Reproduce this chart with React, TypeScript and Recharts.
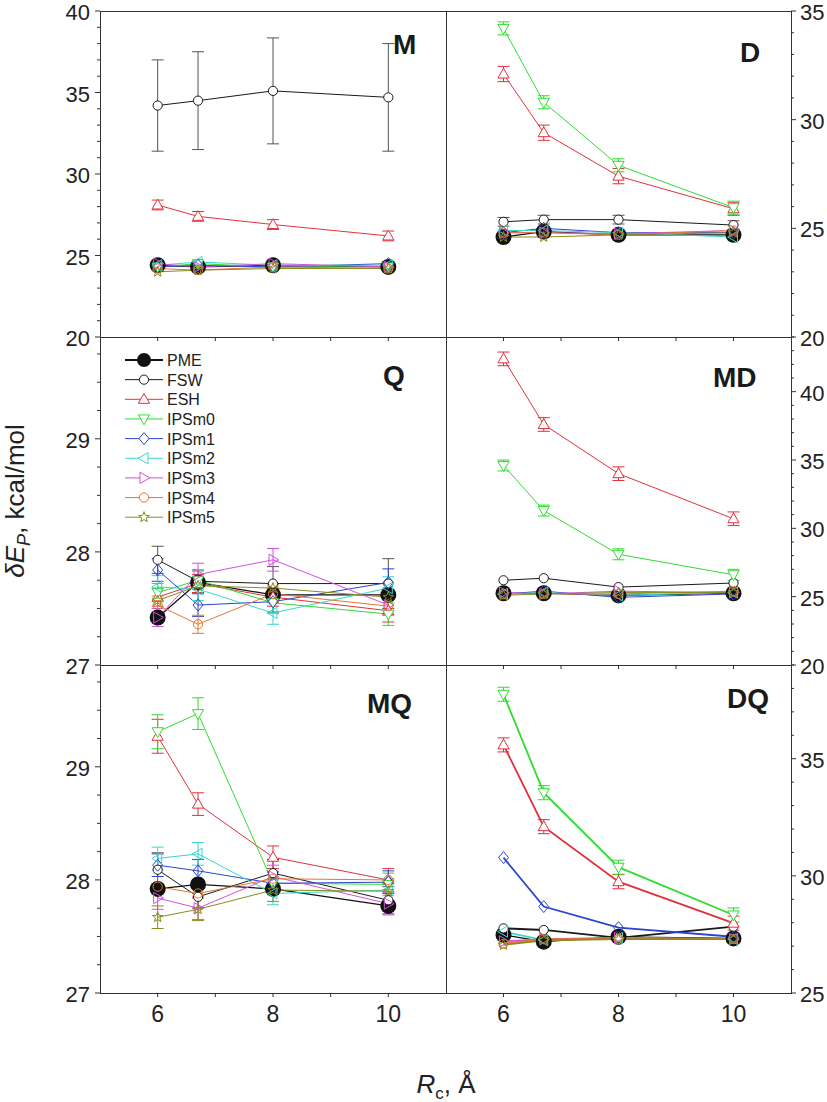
import React from "react";
import { LineChart, Line, XAxis, YAxis, ErrorBar } from "recharts";

const FONT = '"Liberation Sans", Arial, Helvetica, sans-serif';

// cutoff radius values (x)
const rc = [6, 6.7, 8, 10];
const xTicks = [6, 7, 8, 9, 10];
const xLabels = [6, 8, 10];

const seriesNames = ["PME", "FSW", "ESH", "IPSm0", "IPSm1", "IPSm2", "IPSm3", "IPSm4", "IPSm5"];

// ---- M ----
const mPME = [24.4, 24.3, 24.4, 24.3];
const mFSW = [34.2, 34.5, 35.1, 34.7];
const mESH = [28.1, 27.4, 26.9, 26.2];
const mIPSm0 = [24.3, 24.5, 24.3, 24.3];
const mIPSm1 = [24.3, 24.4, 24.3, 24.5];
const mIPSm2 = [24.4, 24.6, 24.4, 24.4];
const mIPSm3 = [24.5, 24.3, 24.5, 24.3];
const mIPSm4 = [24.2, 24.1, 24.3, 24.2];
const mIPSm5 = [24.0, 24.1, 24.2, 24.2];
const mFSWErr = [2.8, 3.0, 3.25, 3.3];
const mESHErr = [0.3, 0.3, 0.3, 0.3];

// ---- D ----
const dPME = [24.6, 24.85, 24.7, 24.7];
const dFSW = [25.3, 25.4, 25.4, 25.15];
const dESH = [32.1, 29.4, 27.4, 25.9];
const dIPSm0 = [34.2, 30.8, 27.9, 25.95];
const dIPSm1 = [24.8, 25.0, 24.8, 24.8];
const dIPSm2 = [24.9, 24.9, 24.8, 24.6];
const dIPSm3 = [24.8, 24.8, 24.75, 24.9];
const dIPSm4 = [24.8, 24.8, 24.7, 24.9];
const dIPSm5 = [24.6, 24.6, 24.7, 24.8];
const dESHErr = [0.35, 0.35, 0.35, 0.3];
const dIPSm0Err = [0.3, 0.3, 0.3, 0.3];
const dFSWErr = [0.2, 0.2, 0.2, 0.2];

// ---- Q ----
const qPME = [27.42, 27.73, 27.62, 27.62];
const qFSW = [27.93, 27.74, 27.72, 27.72];
const qESH = [27.6, 27.72, 27.6, 27.48];
const qIPSm0 = [27.64, 27.75, 27.55, 27.45];
const qIPSm1 = [27.84, 27.53, 27.56, 27.73];
const qIPSm2 = [27.69, 27.67, 27.46, 27.68];
const qIPSm3 = [27.42, 27.8, 27.93, 27.53];
const qIPSm4 = [27.53, 27.36, 27.63, 27.52];
const qIPSm5 = [27.57, 27.7, 27.68, 27.6];
const qFSWErr = [0.12, 0.1, 0.15, 0.22];
const qESHErr = [0.08, 0.08, 0.08, 0.1];
const qIPSm0Err = [0.08, 0.08, 0.08, 0.1];
const qIPSm1Err = [0.1, 0.1, 0.1, 0.12];
const qIPSm2Err = [0.1, 0.1, 0.1, 0.1];
const qIPSm3Err = [0.08, 0.1, 0.1, 0.05];
const qIPSm4Err = [0.08, 0.08, 0.08, 0.08];

// ---- MD ----
const mdPME = [25.25, 25.25, 25.1, 25.25];
const mdFSW = [26.2, 26.35, 25.7, 26.0];
const mdESH = [42.4, 37.6, 34.0, 30.7];
const mdIPSm0 = [34.6, 31.3, 28.1, 26.6];
const mdIPSm1 = [25.2, 25.4, 24.95, 25.2];
const mdIPSm2 = [25.2, 25.3, 25.1, 25.3];
const mdIPSm3 = [25.3, 25.2, 25.4, 25.3];
const mdIPSm4 = [25.2, 25.2, 25.2, 25.4];
const mdIPSm5 = [25.1, 25.2, 25.3, 25.3];
const mdESHErr = [0.5, 0.5, 0.5, 0.5];
const mdIPSm0Err = [0.4, 0.4, 0.4, 0.4];

// ---- MQ ----
const mqPME = [27.92, 27.96, 27.92, 27.77];
const mqFSW = [28.09, 27.85, 28.06, 27.82];
const mqESH = [29.27, 28.67, 28.2, 28.0];
const mqIPSm0 = [29.31, 29.47, 27.97, 27.96];
const mqIPSm1 = [28.13, 28.08, 27.97, 27.98];
const mqIPSm2 = [28.19, 28.23, 27.88, 27.91];
const mqIPSm3 = [27.84, 27.75, 28.03, 27.79];
const mqIPSm4 = [27.94, 27.88, 28.01, 28.0];
const mqIPSm5 = [27.67, 27.74, 27.91, 27.9];
const mqFSWErr = [0.15, 0.1, 0.12, 0.12];
const mqESHErr = [0.15, 0.1, 0.1, 0.1];
const mqIPSm0Err = [0.15, 0.14, 0.1, 0.1];
const mqIPSm1Err = [0.1, 0.1, 0.1, 0.1];
const mqIPSm2Err = [0.1, 0.1, 0.1, 0.1];
const mqIPSm3Err = [0.1, 0.1, 0.1, 0.1];
const mqIPSm5Err = [0.1, 0.1, 0.1, 0.1];

// ---- DQ ----
const dqPME = [27.48, 27.19, 27.4, 27.33];
const dqFSW = [27.76, 27.69, 27.35, 27.83];
const dqESH = [35.59, 32.1, 29.75, 27.98];
const dqIPSm0 = [37.75, 33.55, 30.37, 28.33];
const dqIPSm1 = [30.78, 28.69, 27.79, 27.4];
const dqIPSm2 = [27.62, 27.26, 27.35, 27.3];
const dqIPSm3 = [27.2, 27.3, 27.35, 27.3];
const dqIPSm4 = [27.1, 27.3, 27.3, 27.3];
const dqIPSm5 = [27.05, 27.25, 27.3, 27.3];
const dqESHErr = [0.3, 0.3, 0.3, 0.3];
const dqIPSm0Err = [0.3, 0.3, 0.3, 0.3];

const SERIES = [
  { name: "PME", color: "#111111", kind: "pme", fill: "#111111", w: 1.2 },
  { name: "FSW", color: "#1a1a1a", kind: "circle", fill: "#ffffff", w: 1 },
  { name: "ESH", color: "#e2303c", kind: "up", fill: "#ffffff", w: 1 },
  { name: "IPSm0", color: "#2fdc2f", kind: "down", fill: "#ffffff", w: 1 },
  { name: "IPSm1", color: "#2b44d2", kind: "diamond", fill: "none", w: 1 },
  { name: "IPSm2", color: "#36d8cc", kind: "left", fill: "none", w: 1 },
  { name: "IPSm3", color: "#d84ee0", kind: "right", fill: "none", w: 1 },
  { name: "IPSm4", color: "#e8772e", kind: "circle", fill: "none", w: 1 },
  { name: "IPSm5", color: "#8a8c1c", kind: "star", fill: "none", w: 1 },
];

const ROW_TOP = [11, 337, 665];
const ROW_BOTTOM = [337, 665, 993];
const TICK_FONT = 22;

const PANELS = [
  {
    label: "M", col: 0, row: 0, domain: [20, 40], majors: [20, 25, 30, 35, 40], step: 1, lw: 1, lx: 393, ly: 54,
    values: [mPME, mFSW, mESH, mIPSm0, mIPSm1, mIPSm2, mIPSm3, mIPSm4, mIPSm5],
    errors: { FSW: mFSWErr, ESH: mESHErr } as Record<string, number[]>,
  },
  {
    label: "D", col: 1, row: 0, domain: [20, 35], majors: [20, 25, 30, 35], step: 1, lw: 1, lx: 740, ly: 62,
    values: [dPME, dFSW, dESH, dIPSm0, dIPSm1, dIPSm2, dIPSm3, dIPSm4, dIPSm5],
    errors: { FSW: dFSWErr, ESH: dESHErr, IPSm0: dIPSm0Err } as Record<string, number[]>,
  },
  {
    label: "Q", col: 0, row: 1, domain: [27, 29.9], majors: [27, 28, 29], step: 0.25, lw: 1, lx: 383, ly: 385,
    values: [qPME, qFSW, qESH, qIPSm0, qIPSm1, qIPSm2, qIPSm3, qIPSm4, qIPSm5],
    errors: { FSW: qFSWErr, ESH: qESHErr, IPSm0: qIPSm0Err, IPSm1: qIPSm1Err, IPSm2: qIPSm2Err, IPSm3: qIPSm3Err, IPSm4: qIPSm4Err } as Record<string, number[]>,
  },
  {
    label: "MD", col: 1, row: 1, domain: [20, 44], majors: [20, 25, 30, 35, 40], step: 1, lw: 1, lx: 713, ly: 387,
    values: [mdPME, mdFSW, mdESH, mdIPSm0, mdIPSm1, mdIPSm2, mdIPSm3, mdIPSm4, mdIPSm5],
    errors: { ESH: mdESHErr, IPSm0: mdIPSm0Err } as Record<string, number[]>,
  },
  {
    label: "MQ", col: 0, row: 2, domain: [27, 29.9], majors: [27, 28, 29], step: 0.25, lw: 1, lx: 367, ly: 713,
    values: [mqPME, mqFSW, mqESH, mqIPSm0, mqIPSm1, mqIPSm2, mqIPSm3, mqIPSm4, mqIPSm5],
    errors: { FSW: mqFSWErr, ESH: mqESHErr, IPSm0: mqIPSm0Err, IPSm1: mqIPSm1Err, IPSm2: mqIPSm2Err, IPSm3: mqIPSm3Err, IPSm5: mqIPSm5Err } as Record<string, number[]>,
  },
  {
    label: "DQ", col: 1, row: 2, domain: [25, 39], majors: [25, 30, 35], step: 1, lw: 1.8, lx: 727, ly: 708,
    values: [dqPME, dqFSW, dqESH, dqIPSm0, dqIPSm1, dqIPSm2, dqIPSm3, dqIPSm4, dqIPSm5],
    errors: { ESH: dqESHErr, IPSm0: dqIPSm0Err } as Record<string, number[]>,
  },
];

function tickRange(lo: number, hi: number, step: number) {
  const out: number[] = [];
  const n = Math.floor((hi - lo) / step + 1e-6);
  for (let i = 0; i <= n; i++) out.push(+(lo + i * step).toFixed(4));
  return out;
}

function Marker({ kind, cx, cy, color, fill, legend }: any) {
  if (cx == null || cy == null || isNaN(cx) || isNaN(cy)) return null;
  const common = { fill, stroke: color, strokeWidth: 1 };
  switch (kind) {
    case "pme":
      return <circle cx={cx} cy={cy} r={legend ? 7 : 8} fill="#111" />;
    case "circle":
      return <circle cx={cx} cy={cy} r={4.6} {...common} />;
    case "up":
      return <polygon points={`${cx},${cy - 5.8} ${cx + 5.6},${cy + 4} ${cx - 5.6},${cy + 4}`} {...common} />;
    case "down":
      return <polygon points={`${cx},${cy + 5.8} ${cx + 5.6},${cy - 4} ${cx - 5.6},${cy - 4}`} {...common} />;
    case "diamond":
      return <polygon points={`${cx},${cy - 6} ${cx + 5},${cy} ${cx},${cy + 6} ${cx - 5},${cy}`} {...common} />;
    case "left":
      return <polygon points={`${cx - 5.8},${cy} ${cx + 4},${cy - 5.6} ${cx + 4},${cy + 5.6}`} {...common} />;
    case "right":
      return <polygon points={`${cx + 5.8},${cy} ${cx - 4},${cy - 5.6} ${cx - 4},${cy + 5.6}`} {...common} />;
    case "star": {
      const pts: string[] = [];
      for (let i = 0; i < 10; i++) {
        const r = i % 2 ? 2.3 : 5.5;
        const a = -Math.PI / 2 + (i * Math.PI) / 5;
        pts.push(`${cx + r * Math.cos(a)},${cy + r * Math.sin(a)}`);
      }
      return <polygon points={pts.join(" ")} {...common} />;
    }
  }
  return null;
}

function XTick({ x, y, payload, showLabel }: any) {
  const v = payload.value;
  return (
    <g>
      <line x1={x} y1={y} x2={x} y2={y + 4} stroke="#333" strokeWidth={1} />
      {showLabel && xLabels.includes(v) && (
        <text x={x} y={y + 12} dy="0.72em" textAnchor="middle" fontSize={TICK_FONT + 1} fill="#222" fontFamily={FONT}>
          {v}
        </text>
      )}
    </g>
  );
}

function YTick({ x, y, payload, majors, left }: any) {
  const v = payload.value;
  const major = majors.includes(v);
  const len = major ? 5 : 3;
  const s = left ? -1 : 1;
  return (
    <g>
      <line x1={x} y1={y} x2={x + s * len} y2={y} stroke="#333" strokeWidth={1} />
      {major && (
        <text x={left ? x - 10 : x + 9} y={y} dy="0.41em" textAnchor={left ? "end" : "start"} fontSize={TICK_FONT} fill="#222" fontFamily={FONT}>
          {v}
        </text>
      )}
    </g>
  );
}

function PanelChart({ p }: any) {
  const left = p.col === 0;
  const bottomRow = p.row === 2;
  const plotH = ROW_BOTTOM[p.row] - ROW_TOP[p.row];
  // room under the plot for tick labels sitting on the panel boundary
  const xH = bottomRow ? 44 : 22;
  const H = 11 + plotH + xH;
  const W = left ? 456 : 391;
  const margin = left ? { top: 11, right: 10, bottom: 0, left: 0 } : { top: 11, right: 0, bottom: 0, left: 10 };
  const rows = rc.map((x, i) => {
    const r: any = { x };
    SERIES.forEach((s, k) => {
      r[s.name] = p.values[k][i];
      const e = p.errors[s.name];
      if (e) r[s.name + "_e"] = e[i];
    });
    return r;
  });
  const yTicks = tickRange(p.domain[0], p.domain[1], p.step);
  return (
    <div style={{ position: "absolute", left: left ? 0 : 436, top: ROW_TOP[p.row] - 11 }}>
      <LineChart width={W} height={H} data={rows} margin={margin} style={{ overflow: "visible" }}>
        <XAxis
          type="number"
          dataKey="x"
          domain={[5, 11]}
          ticks={xTicks}
          interval={0}
          height={xH}
          tickSize={0}
          tickMargin={0}
          axisLine={false}
          tickLine={false}
          tick={(t: any) => <XTick {...t} showLabel={bottomRow} />}
        />
        <YAxis
          type="number"
          orientation={left ? "left" : "right"}
          domain={p.domain}
          ticks={yTicks}
          interval={0}
          width={left ? 100 : 36}
          tickSize={0}
          tickMargin={0}
          axisLine={false}
          tickLine={false}
          allowDataOverflow
          tick={(t: any) => <YTick {...t} majors={p.majors} left={left} />}
        />
        {SERIES.map((s) => (
          <Line
            key={s.name}
            type="linear"
            dataKey={s.name}
            stroke={s.color}
            strokeWidth={s.name === "PME" ? s.w : p.lw}
            isAnimationActive={false}
            activeDot={false}
            dot={(d: any) => (
              <Marker key={`${s.name}-${d.index}`} kind={s.kind} cx={d.cx} cy={d.cy} color={s.color} fill={s.fill} />
            )}
          >
            {p.errors[s.name] && (
              <ErrorBar
                dataKey={s.name + "_e"}
                width={6}
                strokeWidth={1}
                stroke={s.name === "FSW" ? "#555" : s.color}
                direction="y"
              />
            )}
          </Line>
        ))}
      </LineChart>
    </div>
  );
}

function Overlay() {
  const legendY0 = 360;
  const legendStep = 19.65;
  return (
    <svg width={827} height={1102} style={{ position: "absolute", left: 0, top: 0, pointerEvents: "none" }}>
      {PANELS.map((p) => {
        const x0 = p.col === 0 ? 100 : 446;
        const x1 = p.col === 0 ? 446 : 791;
        return (
          <rect
            key={"f" + p.label}
            x={x0 + 0.5}
            y={ROW_TOP[p.row] + 0.5}
            width={x1 - x0}
            height={ROW_BOTTOM[p.row] - ROW_TOP[p.row]}
            fill="none"
            stroke="#333"
            strokeWidth={1}
          />
        );
      })}
      {PANELS.map((p) => (
        <text key={"l" + p.label} x={p.lx} y={p.ly} fontSize={28} fontWeight="bold" fill="#1a1a1a" fontFamily={FONT}>
          {p.label}
        </text>
      ))}
      {SERIES.map((s, i) => {
        const y = legendY0 + i * legendStep;
        return (
          <g key={"lg" + s.name}>
            <line x1={125} y1={y} x2={163} y2={y} stroke={s.color} strokeWidth={s.name === "PME" ? 2 : 1} />
            <Marker kind={s.kind} cx={144} cy={y} color={s.color} fill={s.fill === "none" ? "#fff" : s.fill} legend />
            <text x={167} y={y + 6} fontSize={16} fill="#222" fontFamily={FONT}>
              {seriesNames[i]}
            </text>
          </g>
        );
      })}
      <text transform="translate(24,501) rotate(-90)" textAnchor="middle" fontSize={26} fill="#222" fontFamily={FONT}>
        <tspan fontStyle="italic">δE</tspan>
        <tspan fontStyle="italic" fontSize={18} dy={6}>P</tspan>
        <tspan dy={-6}>, kcal/mol</tspan>
      </text>
      <text x={446} y={1093} textAnchor="middle" fontSize={26} fill="#222" fontFamily={FONT}>
        <tspan fontStyle="italic">R</tspan>
        <tspan fontSize={17} dy={6}>c</tspan>
        <tspan dy={-6}>, Å</tspan>
      </text>
    </svg>
  );
}

export default function App() {
  return (
    <div style={{ position: "absolute", left: 0, top: 0, width: 827, height: 1102, background: "#fff", fontFamily: FONT }}>
      {PANELS.map((p) => (
        <PanelChart key={p.label} p={p} />
      ))}
      <Overlay />
    </div>
  );
}
